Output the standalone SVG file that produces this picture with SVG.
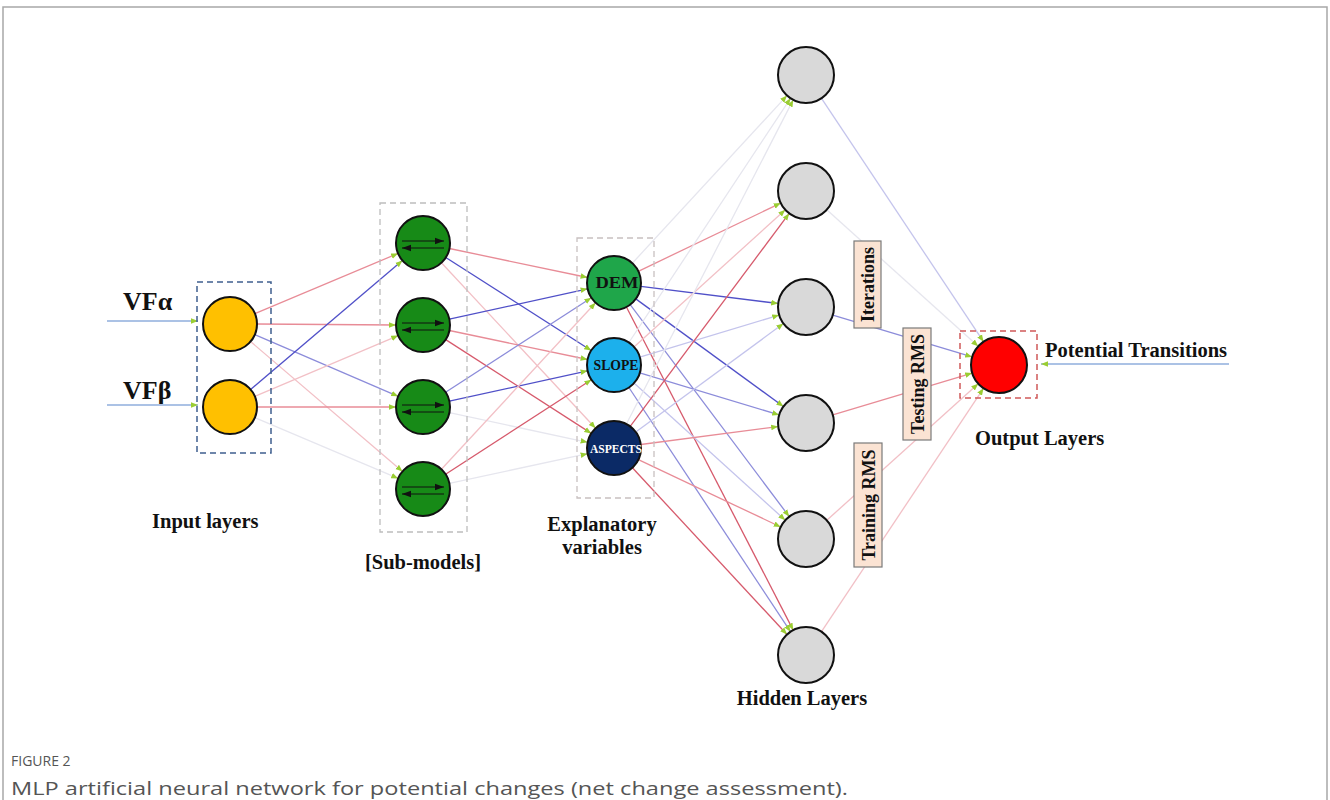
<svg xmlns="http://www.w3.org/2000/svg" width="1330" height="800" viewBox="0 0 1330 800">
<style>
.bg{fill:#fff}
.frame{fill:none;stroke:#a8a8a8;stroke-width:1.5}
.lbl{font-family:"Liberation Serif","Times New Roman",serif;font-weight:bold;font-size:20.5px;fill:#111}
.vf{font-family:"Liberation Serif","Times New Roman",serif;font-weight:bold;font-size:26px;fill:#111}
.rot{font-family:"Liberation Serif","Times New Roman",serif;font-weight:bold;font-size:18px;fill:#111}
.nt{font-family:"Liberation Serif","Times New Roman",serif;font-weight:bold}
.node{stroke:#111;stroke-width:2}
.inp{fill:#FFC000}
.sub{fill:#178A17}
.hid{fill:#D9D9D9}
.tag{fill:#FBE3D3;stroke:#7a7a7a;stroke-width:1.2}
.c line{stroke-width:1.3;fill:none;marker-end:url(#ga)}
.rs{stroke:#D65A6C}
.rm{stroke:#E88C97}
.rl{stroke:#F2C0C6}
.bs{stroke:#5050C8}
.bm{stroke:#8C8CDA}
.bl{stroke:#C4C4EC}
.gf{stroke:#E6E6EE}
.inarrow{stroke:#8FAEDC;stroke-width:1.2;marker-end:url(#ba)}
.ia{stroke:#111;stroke-width:1.2;marker-end:url(#ka)}
.cap{font-family:"Open Sans","Noto Sans",sans-serif;fill:#555}
</style>
<defs>
<marker id="ga" viewBox="0 0 10 10" refX="10" refY="5" markerWidth="7" markerHeight="7" markerUnits="userSpaceOnUse" orient="auto"><path d="M0,1 L10,5 L0,9 z" fill="#9ACD32"/></marker>
<marker id="ka" viewBox="0 0 10 10" refX="10" refY="5" markerWidth="9" markerHeight="9" markerUnits="userSpaceOnUse" orient="auto"><path d="M0,1.5 L10,5 L0,8.5 z" fill="#111"/></marker>
<marker id="ba" viewBox="0 0 10 10" refX="10" refY="5" markerWidth="5" markerHeight="5" markerUnits="userSpaceOnUse" orient="auto"><path d="M0,1 L10,5 L0,9 z" fill="#3A6FC8"/></marker>
</defs>
<rect class="bg" x="0" y="0" width="1330" height="800"/>
<path class="frame" d="M3,800 V7 H1327 V800"/>

<g id="connectors" class="c">
<!-- input to sub-models -->
<line class="rm" x1="254.9" y1="313.6" x2="398.1" y2="253.4"/>
<line class="rm" x1="257" y1="324" x2="396" y2="325"/>
<line class="bm" x1="254.8" y1="334.7" x2="398.2" y2="396.3"/>
<line class="rl" x1="250.5" y1="341.5" x2="402.5" y2="471.5"/>
<line class="bs" x1="250.6" y1="389.5" x2="402.4" y2="260.5"/>
<line class="rl" x1="254.8" y1="396.4" x2="398.2" y2="335.6"/>
<line class="rm" x1="257" y1="407" x2="396" y2="407"/>
<line class="gf" x1="254.8" y1="417.6" x2="398.2" y2="478.4"/>
<!-- sub-models to explanatory -->
<line class="rm" x1="449.4" y1="248.5" x2="587.6" y2="277.5"/>
<line class="bs" x1="445.8" y1="257.5" x2="591.2" y2="350.5"/>
<line class="rl" x1="441.4" y1="262.8" x2="595.6" y2="428.2"/>
<line class="bs" x1="449.4" y1="319.2" x2="587.6" y2="288.8"/>
<line class="rm" x1="449.4" y1="330.5" x2="587.6" y2="359.5"/>
<line class="rs" x1="445.7" y1="339.6" x2="591.3" y2="433.4"/>
<line class="bm" x1="445.6" y1="392.3" x2="591.4" y2="297.7"/>
<line class="bs" x1="449.4" y1="401.2" x2="587.6" y2="370.8"/>
<line class="gf" x1="449.4" y1="412.7" x2="587.6" y2="442.3"/>
<line class="rl" x1="441.4" y1="469.2" x2="595.6" y2="302.8"/>
<line class="rs" x1="445.6" y1="474.3" x2="591.4" y2="379.7"/>
<line class="gf" x1="449.4" y1="483.3" x2="587.6" y2="453.7"/>
<!-- explanatory to hidden -->
<line class="gf" x1="632.3" y1="263.2" x2="787" y2="95.6"/>
<line class="rm" x1="638.3" y1="271.3" x2="780.7" y2="203.1"/>
<line class="bs" x1="640.8" y1="286.3" x2="778.2" y2="303.5"/>
<line class="bs" x1="635.8" y1="298.9" x2="783.4" y2="406.5"/>
<line class="bm" x1="630.2" y1="304.6" x2="789.2" y2="516.6"/>
<line class="rs" x1="626.4" y1="307" x2="793.2" y2="630.1"/>
<line class="gf" x1="628.9" y1="342.5" x2="790.5" y2="98.3"/>
<line class="rl" x1="634" y1="346.9" x2="785.3" y2="209.8"/>
<line class="bl" x1="639.8" y1="357.2" x2="779.2" y2="315.1"/>
<line class="bm" x1="639.8" y1="372.8" x2="779.2" y2="414.9"/>
<line class="bl" x1="634" y1="383.1" x2="785.3" y2="520.2"/>
<line class="bm" x1="628.9" y1="387.5" x2="790.5" y2="631.7"/>
<line class="gf" x1="626.4" y1="424" x2="793.2" y2="99.9"/>
<line class="rs" x1="630.2" y1="426.4" x2="789.2" y2="213.4"/>
<line class="bl" x1="635.8" y1="432" x2="783.4" y2="323.6"/>
<line class="rm" x1="640.8" y1="444.5" x2="778.2" y2="426.6"/>
<line class="rm" x1="638.4" y1="459.6" x2="780.7" y2="527"/>
<line class="rs" x1="632.4" y1="467.8" x2="787" y2="634.5"/>
<!-- hidden to output -->
<line class="bl" x1="821.5" y1="98.3" x2="983.5" y2="341.7"/>
<line class="gf" x1="826.8" y1="209.7" x2="978.2" y2="346.3"/>
<line class="bm" x1="832.8" y1="315.1" x2="972.2" y2="356.9"/>
<line class="rm" x1="832.8" y1="414.9" x2="972.2" y2="373.1"/>
<line class="rl" x1="826.8" y1="520.3" x2="978.2" y2="383.7"/>
<line class="rl" x1="821.5" y1="631.7" x2="983.5" y2="388.3"/>
<!-- external inputs/outputs -->
<line class="inarrow" x1="107" y1="321" x2="198" y2="321"/>
<line class="inarrow" x1="107" y1="405" x2="198" y2="405"/>
<line class="inarrow" x1="1229" y1="364" x2="1041" y2="364"/>
</g>

<g id="input-box"><rect x="197" y="282" width="74" height="171" fill="none" stroke="#3F5F8F" stroke-width="1.5" stroke-dasharray="6,4"/></g>
<g id="sub-box"><rect x="380" y="203" width="87" height="329" fill="none" stroke="#BDBDBD" stroke-width="1.3" stroke-dasharray="6,4"/></g>
<g id="exp-box"><rect x="577" y="238" width="77" height="260" fill="none" stroke="#C8C0C0" stroke-width="1.3" stroke-dasharray="6,4"/></g>
<g id="out-box"><rect x="960" y="331" width="77" height="67" fill="none" stroke="#D05A5A" stroke-width="1.5" stroke-dasharray="6,4"/></g>

<g id="in-vfa"><text class="vf" x="123" y="310">VFα</text><circle class="node inp" cx="230" cy="324" r="27"/></g>
<g id="in-vfb"><text class="vf" x="123" y="399">VFβ</text><circle class="node inp" cx="230" cy="407" r="27"/></g>

<g id="sub1"><circle class="node sub" cx="423" cy="243" r="27"/><line class="ia" x1="402" y1="241" x2="444" y2="241"/><line class="ia" x1="444" y1="248" x2="402" y2="248"/></g>
<g id="sub2"><circle class="node sub" cx="423" cy="325" r="27"/><line class="ia" x1="402" y1="323" x2="444" y2="323"/><line class="ia" x1="444" y1="330" x2="402" y2="330"/></g>
<g id="sub3"><circle class="node sub" cx="423" cy="407" r="27"/><line class="ia" x1="402" y1="405" x2="444" y2="405"/><line class="ia" x1="444" y1="412" x2="402" y2="412"/></g>
<g id="sub4"><circle class="node sub" cx="423" cy="489" r="27"/><line class="ia" x1="402" y1="487" x2="444" y2="487"/><line class="ia" x1="444" y1="494" x2="402" y2="494"/></g>

<g id="dem"><circle class="node" cx="614" cy="283" r="27" fill="#1FA64A"/><text class="nt" x="617" y="288" text-anchor="middle" font-size="16px" fill="#111" textLength="43" lengthAdjust="spacingAndGlyphs">DEM</text></g>
<g id="slope"><circle class="node" cx="614" cy="365" r="27" fill="#1CB0EC"/><text class="nt" x="616" y="370" text-anchor="middle" font-size="15px" fill="#111" textLength="45" lengthAdjust="spacingAndGlyphs">SLOPE</text></g>
<g id="aspects"><circle class="node" cx="614" cy="448" r="27" fill="#0B2A66"/><text class="nt" x="616" y="452.5" text-anchor="middle" font-size="12px" fill="#fff" textLength="52" lengthAdjust="spacingAndGlyphs">ASPECTS</text></g>

<g id="h1"><circle class="node hid" cx="806" cy="75" r="28"/></g>
<g id="h2"><circle class="node hid" cx="806" cy="191" r="28"/></g>
<g id="h3"><circle class="node hid" cx="806" cy="307" r="28"/></g>
<g id="h4"><circle class="node hid" cx="806" cy="423" r="28"/></g>
<g id="h5"><circle class="node hid" cx="806" cy="539" r="28"/></g>
<g id="h6"><circle class="node hid" cx="806" cy="655" r="28"/></g>

<g id="output"><circle class="node" cx="999" cy="365" r="28" fill="#FF0000"/></g>

<g id="iterations"><rect class="tag" x="854" y="241" width="27" height="87"/><text class="rot" transform="translate(874,284.5) rotate(-90)" text-anchor="middle">Iterations</text></g>
<g id="testing-rms"><rect class="tag" x="903" y="328" width="28" height="112"/><text class="rot" transform="translate(923.5,384) rotate(-90)" text-anchor="middle">Testing RMS</text></g>
<g id="training-rms"><rect class="tag" x="854" y="443" width="28" height="124"/><text class="rot" transform="translate(874.5,505) rotate(-90)" text-anchor="middle">Training RMS</text></g>

<g id="labels">
<text class="lbl" x="152" y="528">Input layers</text>
<text class="lbl" x="423" y="569" text-anchor="middle">[Sub-models]</text>
<text class="lbl" x="602" y="531" text-anchor="middle">Explanatory</text>
<text class="lbl" x="602" y="554" text-anchor="middle">variables</text>
<text class="lbl" x="802" y="705" text-anchor="middle">Hidden Layers</text>
<text class="lbl" x="975" y="445">Output Layers</text>
<text class="lbl" x="1045" y="357">Potential Transitions</text>
</g>

<g id="caption">
<text class="cap" x="11" y="766" font-size="14px" fill="#666">FIGURE 2</text>
<text class="cap" x="11" y="795" font-size="19px" textLength="837" lengthAdjust="spacingAndGlyphs">MLP artificial neural network for potential changes (net change assessment).</text>
</g>
</svg>
